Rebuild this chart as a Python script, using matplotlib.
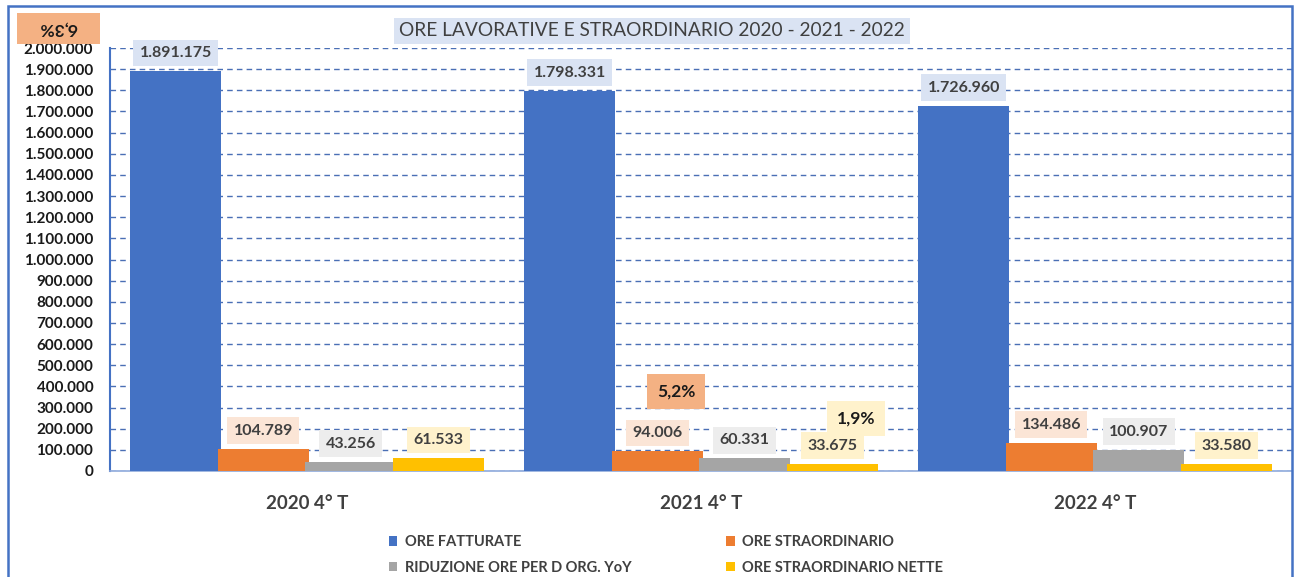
import numpy as np
import matplotlib.pyplot as plt
from matplotlib.patches import Rectangle

plt.rcParams['font.family'] = ['Lato', 'DejaVu Sans']

periods = ['2020 4° T', '2021 4° T', '2022 4° T']
series_names = ['ORE FATTURATE', 'ORE STRAORDINARIO',
                'RIDUZIONE ORE PER D ORG. YoY', 'ORE STRAORDINARIO NETTE']
ore_fatturate = [1891175, 1798331, 1726960]
ore_straordinario = [104789, 94006, 134486]
riduzione_ore = [43256, 60331, 100907]
straordinario_nette = [61533, 33675, 33580]
pct_labels = ['6,3%', '5,2%', '1,9%']

colors = ['#4472c4', '#ed7d31', '#a5a5a5', '#ffc000']
box_colors = ['#dae3f3', '#fbe5d6', '#ededed', '#fff2cc']
txt_col = '#404040'

W, H = 1298, 577
fig = plt.figure(figsize=(W / 100, H / 100), dpi=100)
ax = fig.add_axes([110 / W, 106 / H, 1182 / W, 423 / H])

x = np.arange(len(periods))
step = 0.222
width = 0.231
all_series = [ore_fatturate, ore_straordinario, riduzione_ore, straordinario_nette]
handles = []
for i, vals in enumerate(all_series):
    pos = x + (i - 1.5) * step
    b = ax.bar(pos, vals, width=width, color=colors[i], label=series_names[i], zorder=3)
    handles.append(b)
    for px, v in zip(pos, vals):
        lbl = f'{v:,}'.replace(',', '.')
        ax.annotate(lbl, (px, v), xytext=(0, 13), textcoords='offset points',
                    ha='center', va='center', fontsize=11.5, fontweight='bold',
                    color=txt_col, zorder=5,
                    bbox=dict(boxstyle='square,pad=0.4', fc=box_colors[i], ec='none'))

ax.set_xlim(-0.5, 2.5)
ax.set_ylim(0, 2000000)
yt = np.arange(0, 2000001, 100000)
ax.set_yticks(yt)
ax.set_yticklabels([f'{v:,}'.replace(',', '.') for v in yt], fontsize=11,
                   fontweight='bold', color='#1a1a1a')
ax.set_xticks(x)
ax.set_xticklabels(periods, fontsize=13.5, fontweight='bold', color=txt_col)
ax.tick_params(axis='y', length=0, pad=12)
ax.tick_params(axis='x', length=0, pad=17)
ax.yaxis.grid(True, color='#4a6fb5', linestyle=(0, (4, 3)), linewidth=1, zorder=0)
ax.set_axisbelow(True)
for s in ['top', 'right']:
    ax.spines[s].set_visible(False)
ax.spines['left'].set_color('#4472c4')
ax.spines['left'].set_linewidth(1.5)
ax.spines['bottom'].set_color('#8faadc')
ax.spines['bottom'].set_linewidth(1.2)

# percentage call-outs
ax.text(0.479, 0.187, pct_labels[1], transform=ax.transAxes, ha='center', va='center',
        fontsize=12.5, fontweight='bold', color='#1a1a1a',
        bbox=dict(boxstyle='square,pad=0.55', fc='#f4b183', ec='none'))
ax.text(0.631, 0.125, pct_labels[2], transform=ax.transAxes, ha='center', va='center',
        fontsize=12.5, fontweight='bold', color='#1a1a1a',
        bbox=dict(boxstyle='square,pad=0.55', fc='#fff2cc', ec='none'))
# upside-down box in the top-left corner
fig.patches.append(Rectangle((17 / W, 1 - 44 / H), 83 / W, 31 / H,
                             transform=fig.transFigure, fc='#f4b183', ec='none'))
fig.text(58.5 / W, 1 - 28.5 / H, pct_labels[0], ha='center', va='center', rotation=180,
         fontsize=12.5, fontweight='bold', color='#1a1a1a')

fig.text(652 / W, 1 - 31 / H, 'ORE LAVORATIVE E STRAORDINARIO 2020 - 2021 - 2022',
         ha='center', va='center', fontsize=13.8, color=txt_col,
         bbox=dict(boxstyle='square,pad=0.25', fc='#dae3f3', ec='none'))

order = [0, 2, 1, 3]
leg = fig.legend([handles[i] for i in order], [series_names[i] for i in order],
                 ncol=2, loc='center', bbox_to_anchor=(666 / W, 1 - 555 / H),
                 frameon=False, handlelength=0.6, handleheight=0.6, handletextpad=0.5,
                 columnspacing=6.5, labelspacing=0.8,
                 prop={'size': 10.5, 'weight': 'bold'})
for t in leg.get_texts():
    t.set_color(txt_col)

fig.patches.append(Rectangle((8 / W, -0.05), 1284 / W, 1.05 - 6 / H,
                             transform=fig.transFigure, fill=False,
                             ec='#4472c4', lw=1.8))

fig.savefig('out.png', dpi=100)
